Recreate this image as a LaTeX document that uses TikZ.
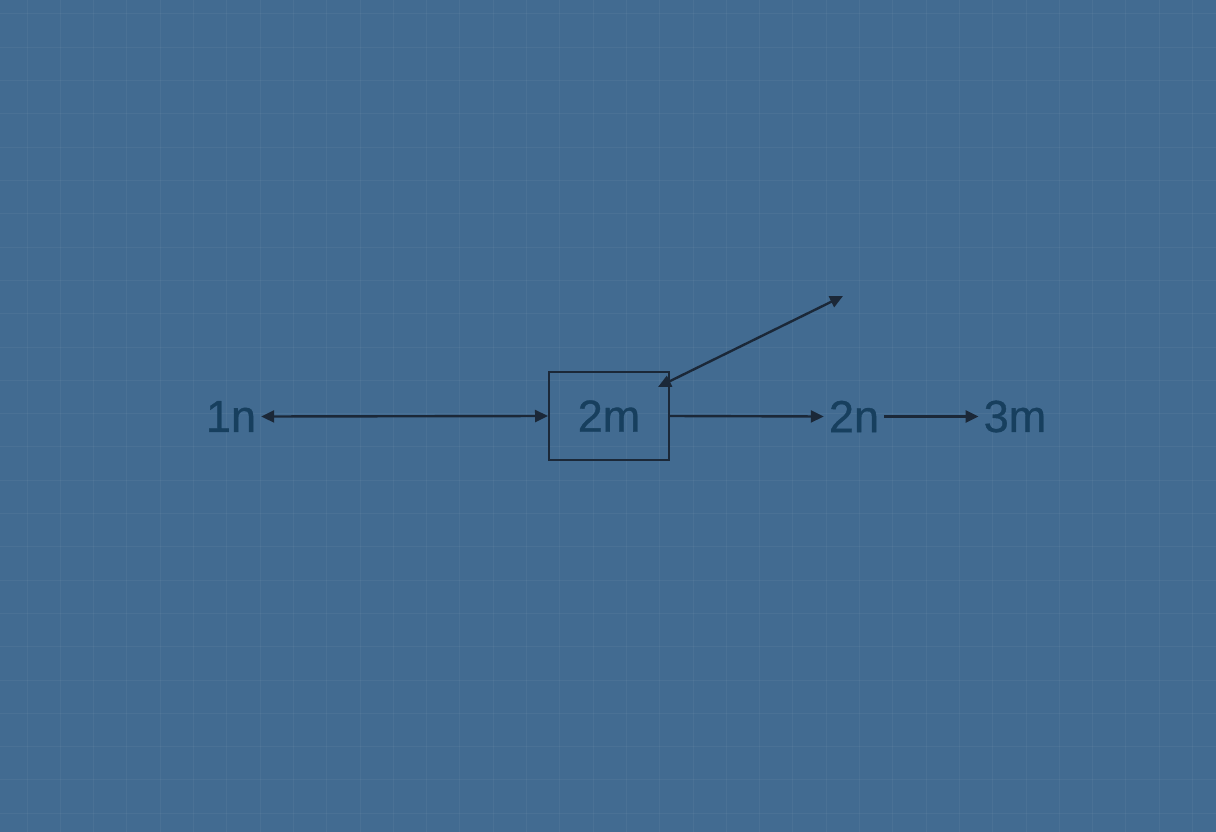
\documentclass[tikz,border=0pt]{standalone}
\usepackage{fontspec}
\setmainfont{Liberation Sans}
\newfontfamily\lblfont[FakeBold=0.8]{Liberation Sans}
\usetikzlibrary{arrows.meta}
\definecolor{bgblue}{HTML}{426B91}
\definecolor{txtblue}{HTML}{173F5E}
\definecolor{linedark}{HTML}{1B2838}
\tikzset{
  lbl/.style={text=txtblue, font=\lblfont\fontsize{45}{50}\selectfont, inner sep=5pt},
  boxnode/.style={draw=linedark, line width=2pt, minimum width=120pt, minimum height=88pt, text=txtblue, font=\lblfont\fontsize{45}{50}\selectfont, inner sep=0pt},
  conn/.style={draw=linedark, line width=2.4pt, arrows={-Triangle[length=13pt,width=12pt]}},
  biconn/.style={draw=linedark, line width=2.4pt, arrows={Triangle[length=13pt,width=12pt]-Triangle[length=13pt,width=12pt]}},
  gridline/.style={draw=white, opacity=0.045, line width=1pt}
}
\begin{document}
\begin{tikzpicture}[x=1pt,y=-1pt]
  \fill[bgblue] (0,0) rectangle (1216,832);
  \useasboundingbox (0,0) rectangle (1216,832);
  \foreach \i in {0,...,36} {
    \draw[gridline] ({27+33.3*\i},0) -- ({27+33.3*\i},832);
  }
  \foreach \j in {0,...,25} {
    \draw[gridline] (0,{14+33.3*\j}) -- (1216,{14+33.3*\j});
  }
  \node[lbl] (n1) at (231,416.5) {1n};
  \node[boxnode] (m2) at (609,416) {2m};
  \node[lbl] (n2) at (854,416.5) {2n};
  \node[lbl] (m3) at (1015,416.5) {3m};
  \coordinate (d1) at ([shift={(-12,16)}]m2.north east);
  \coordinate (d2) at (843,296);
  \draw[biconn] (n1.east) -- (m2.west);
  \draw[biconn] (d1) -- (d2);
  \draw[conn] (m2.east) -- (n2.west);
  \draw[conn] (n2.east) -- (m3.west);
\end{tikzpicture}
\end{document}
